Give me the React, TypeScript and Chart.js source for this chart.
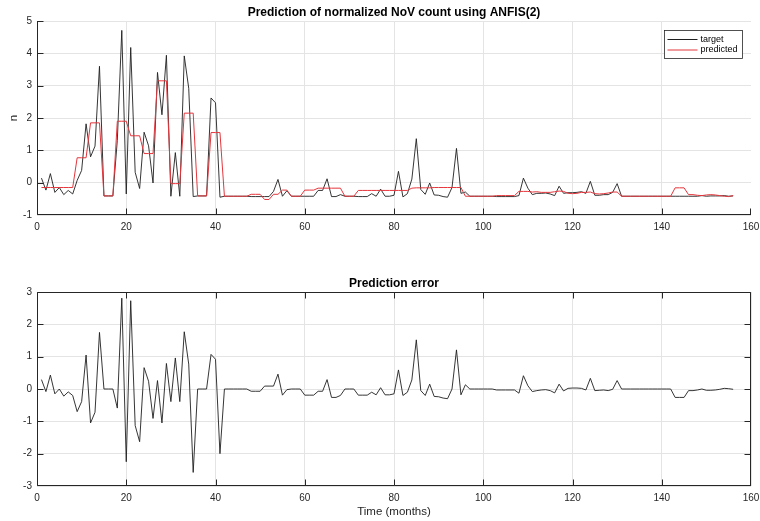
import React, { useEffect, useRef } from 'react';
import { Chart, registerables } from 'chart.js';

Chart.register(...registerables);

const FONT = '"Liberation Sans", Arial, Helvetica, sans-serif';

// sample index (months 1..156)
const months: number[] = Array.from({ length: 156 }, (_, i) => i + 1);

const target: number[] = [
  0.14, -0.23, 0.28, -0.30, -0.15, -0.37, -0.24, -0.35, 0.07, 0.38,
  1.82, 0.80, 1.13, 3.60, -0.41, -0.41, -0.41, 1.31, 4.71, -0.35,
  4.18, 0.32, -0.18, 1.56, 1.14, -0.01, 3.41, 2.10, 3.94, -0.42,
  0.93, -0.42, 3.92, 2.92, -0.43, -0.41, -0.41, -0.41, 2.62, 2.47,
  -0.45, -0.42, -0.42, -0.42, -0.42, -0.42, -0.42, -0.43, -0.43, -0.43,
  -0.43, -0.43, -0.27, 0.10, -0.42, -0.25, -0.42, -0.42, -0.42, -0.42,
  -0.42, -0.42, -0.24, -0.24, 0.12, -0.43, -0.43, -0.37, -0.42, -0.42,
  -0.42, -0.43, -0.43, -0.43, -0.34, -0.42, -0.20, -0.42, -0.42, -0.39,
  0.35, -0.44, -0.34, 0.11, 1.36, -0.21, -0.36, -0.01, -0.38, -0.39,
  -0.43, -0.45, -0.15, 1.06, -0.33, -0.29, -0.42, -0.42, -0.42, -0.42,
  -0.42, -0.42, -0.43, -0.43, -0.43, -0.43, -0.43, -0.40, 0.14, -0.17,
  -0.37, -0.33, -0.33, -0.32, -0.35, -0.40, -0.11, -0.33, -0.31, -0.31,
  -0.30, -0.28, -0.33, 0.04, -0.39, -0.39, -0.37, -0.37, -0.30, -0.03,
  -0.42, -0.42, -0.42, -0.42, -0.42, -0.42, -0.42, -0.42, -0.42, -0.42,
  -0.42, -0.42, -0.42, -0.42, -0.42, -0.42, -0.42, -0.42, -0.40, -0.42,
  -0.41, -0.41, -0.41, -0.40, -0.42, -0.41,
];

const predicted: number[] = [
  -0.15, -0.15, -0.15, -0.15, -0.15, -0.15, -0.15, -0.15, 0.77, 0.77,
  0.77, 1.85, 1.85, 1.85, -0.41, -0.41, -0.41, 1.90, 1.90, 1.90,
  1.45, 1.45, 1.45, 0.90, 0.90, 0.90, 3.15, 3.15, 3.15, -0.03,
  -0.03, -0.03, 2.15, 2.15, 2.15, -0.41, -0.41, -0.41, 1.55, 1.55,
  1.55, -0.42, -0.42, -0.42, -0.42, -0.42, -0.42, -0.36, -0.36, -0.36,
  -0.52, -0.52, -0.36, -0.36, -0.23, -0.23, -0.42, -0.42, -0.42, -0.23,
  -0.23, -0.23, -0.17, -0.17, -0.17, -0.17, -0.17, -0.17, -0.42, -0.42,
  -0.42, -0.24, -0.24, -0.24, -0.24, -0.24, -0.24, -0.24, -0.24, -0.24,
  -0.24, -0.24, -0.24, -0.17, -0.16, -0.16, -0.16, -0.16, -0.15, -0.15,
  -0.15, -0.15, -0.15, -0.15, -0.15, -0.42, -0.42, -0.42, -0.42, -0.42,
  -0.42, -0.42, -0.40, -0.40, -0.40, -0.40, -0.40, -0.27, -0.27, -0.27,
  -0.29, -0.28, -0.30, -0.30, -0.30, -0.28, -0.26, -0.27, -0.33, -0.34,
  -0.33, -0.30, -0.30, -0.29, -0.34, -0.35, -0.34, -0.32, -0.29, -0.29,
  -0.42, -0.42, -0.42, -0.42, -0.42, -0.42, -0.42, -0.42, -0.42, -0.42,
  -0.42, -0.42, -0.16, -0.16, -0.16, -0.37, -0.37, -0.39, -0.40, -0.38,
  -0.37, -0.38, -0.40, -0.42, -0.43, -0.40,
];

const predError: number[] = [
  0.29, -0.08, 0.43, -0.15, 0.00, -0.22, -0.09, -0.20, -0.70, -0.39,
  1.05, -1.05, -0.72, 1.75, 0.00, 0.00, 0.00, -0.59, 2.81, -2.25,
  2.73, -1.13, -1.63, 0.66, 0.24, -0.91, 0.26, -1.05, 0.79, -0.39,
  0.96, -0.39, 1.77, 0.77, -2.58, 0.00, 0.00, 0.00, 1.07, 0.92,
  -2.00, 0.00, 0.00, 0.00, 0.00, 0.00, 0.00, -0.07, -0.07, -0.07,
  0.09, 0.09, 0.09, 0.46, -0.19, -0.02, 0.00, 0.00, 0.00, -0.19,
  -0.19, -0.19, -0.07, -0.07, 0.29, -0.26, -0.26, -0.20, 0.00, 0.00,
  0.00, -0.19, -0.19, -0.19, -0.10, -0.18, 0.04, -0.18, -0.18, -0.15,
  0.59, -0.20, -0.10, 0.28, 1.52, -0.05, -0.20, 0.15, -0.23, -0.24,
  -0.28, -0.30, 0.00, 1.21, -0.18, 0.13, 0.00, 0.00, 0.00, 0.00,
  0.00, 0.00, -0.03, -0.03, -0.03, -0.03, -0.03, -0.13, 0.41, 0.10,
  -0.08, -0.05, -0.03, -0.02, -0.05, -0.12, 0.15, -0.06, 0.02, 0.03,
  0.03, 0.02, -0.03, 0.33, -0.05, -0.04, -0.03, -0.05, -0.01, 0.26,
  0.00, 0.00, 0.00, 0.00, 0.00, 0.00, 0.00, 0.00, 0.00, 0.00,
  0.00, 0.00, -0.26, -0.26, -0.26, -0.05, -0.05, -0.03, 0.00, -0.04,
  -0.04, -0.03, -0.01, 0.02, 0.01, -0.01,
];

const topTitle = 'Prediction of normalized NoV count using ANFIS(2)';
const bottomTitle = 'Prediction error';
const xAxisLabel = 'Time (months)';
const topYLabel = 'n';
const seriesLabels = ['target', 'predicted'];

const AXIS_COLOR = '#262626';
const GRID_COLOR = '#e4e4e4';
const TARGET_COLOR = '#1f1f1f';
const PRED_COLOR = '#e4363c';

function makeAxesPlugin(box: boolean) {
  return {
    id: 'matlabAxes',
    afterDatasetsDraw(chart: any) {
      const { ctx, chartArea } = chart;
      const { left, right, top, bottom } = chartArea;
      const xs = chart.scales.x;
      const ys = chart.scales.y;
      const L = Math.round(left) + 0.5;
      const R = Math.round(right) - 0.5;
      const T = Math.round(top) + 0.5;
      const B = Math.round(bottom) - 0.5;
      const tl = 6;
      ctx.save();
      ctx.strokeStyle = AXIS_COLOR;
      ctx.lineWidth = 1;
      ctx.beginPath();
      ctx.moveTo(L, box ? T : T - 0.5);
      ctx.lineTo(L, B);
      ctx.lineTo(R + 0.5, B);
      if (box) {
        ctx.moveTo(R, B);
        ctx.lineTo(R, T);
        ctx.lineTo(L, T);
      }
      xs.ticks.forEach((t: any) => {
        const p = Math.min(Math.round(xs.getPixelForValue(t.value)) + 0.5, R);
        ctx.moveTo(p, B);
        ctx.lineTo(p, B - tl);
        if (box) {
          ctx.moveTo(p, T);
          ctx.lineTo(p, T + tl);
        }
      });
      ys.ticks.forEach((t: any) => {
        const p = Math.min(Math.round(ys.getPixelForValue(t.value)) + 0.5, B);
        ctx.moveTo(L, p);
        ctx.lineTo(L + tl, p);
        if (box) {
          ctx.moveTo(R, p);
          ctx.lineTo(R - tl, p);
        }
      });
      ctx.stroke();
      ctx.restore();
    },
  };
}

function makeTitlePlugin(text: string, gap: number) {
  return {
    id: 'plotTitle',
    afterDraw(chart: any) {
      const { ctx, chartArea } = chart;
      ctx.save();
      ctx.font = 'bold 12px ' + FONT;
      ctx.fillStyle = '#000000';
      ctx.textAlign = 'center';
      ctx.textBaseline = 'middle';
      ctx.fillText(text, (chartArea.left + chartArea.right) / 2, chartArea.top - gap);
      ctx.restore();
    },
  };
}

const legendBoxPlugin = {
  id: 'legendBox',
  afterDraw(chart: any) {
    const { ctx, chartArea } = chart;
    const ds = chart.data.datasets;
    const items = seriesLabels.map((lab) => {
      const d = ds.find((x: any) => x.label === lab);
      return { label: lab, color: d ? d.borderColor : '#000' };
    });
    ctx.save();
    ctx.font = '9px ' + FONT;
    const tw = Math.max(...items.map((it) => ctx.measureText(it.label).width));
    const w = Math.round(36 + tw + 5);
    const h = 28;
    const x0 = Math.round(chartArea.right - 9 - w) + 0.5;
    const y0 = Math.round(chartArea.top + 9) + 0.5;
    ctx.fillStyle = '#ffffff';
    ctx.fillRect(x0, y0, w, h);
    ctx.strokeStyle = AXIS_COLOR;
    ctx.lineWidth = 0.8;
    ctx.strokeRect(x0, y0, w, h);
    items.forEach((it, i) => {
      const yy = y0 + 9 + i * 10.5;
      ctx.strokeStyle = it.color;
      ctx.lineWidth = 1;
      ctx.beginPath();
      ctx.moveTo(x0 + 3, yy);
      ctx.lineTo(x0 + 33, yy);
      ctx.stroke();
      ctx.fillStyle = '#000000';
      ctx.textBaseline = 'middle';
      ctx.textAlign = 'left';
      ctx.fillText(it.label, x0 + 36, yy);
    });
    ctx.restore();
  },
};

function zeroPad(s: any) {
  s.paddingLeft = 0;
  s.paddingRight = 0;
  s.paddingTop = 0;
  s.paddingBottom = 0;
}

function xScale(hideLast: boolean, height: number, titleText: string | null) {
  return {
    type: 'linear',
    min: 0,
    max: 160,
    afterFit: (s: any) => {
      s.height = height;
      zeroPad(s);
    },
    ticks: {
      stepSize: 20,
      padding: 6,
      color: AXIS_COLOR,
      font: { family: FONT, size: 10 },
      maxRotation: 0,
    },
    grid: {
      drawTicks: false,
      lineWidth: 1,
      color: (c: any) => (hideLast && c.tick && c.tick.value === 160 ? 'rgba(0,0,0,0)' : GRID_COLOR),
    },
    border: { display: false },
    title: titleText
      ? {
          display: true,
          text: titleText,
          color: AXIS_COLOR,
          font: { family: FONT, size: 11.5 },
          padding: { top: 0, bottom: 2.4 },
        }
      : { display: false },
  };
}

function yScale(min: number, max: number, titleText: string | null) {
  return {
    type: 'linear',
    min,
    max,
    afterFit: (s: any) => {
      s.width = 37;
      zeroPad(s);
    },
    ticks: {
      stepSize: 1,
      padding: 5,
      color: AXIS_COLOR,
      font: { family: FONT, size: 10 },
    },
    grid: { drawTicks: false, lineWidth: 1, color: GRID_COLOR },
    border: { display: false },
    title: titleText
      ? {
          display: true,
          text: titleText,
          color: AXIS_COLOR,
          font: { family: FONT, size: 11.5 },
          padding: { top: 7, bottom: 0 },
        }
      : { display: false },
  };
}

export default function App() {
  const topRef = useRef<HTMLCanvasElement | null>(null);
  const botRef = useRef<HTMLCanvasElement | null>(null);

  useEffect(() => {
    if (!topRef.current || !botRef.current) return;
    const topChart = new Chart(topRef.current, {
      type: 'line',
      data: {
        datasets: [
          {
            label: seriesLabels[0],
            data: months.map((m, i) => ({ x: m, y: target[i] })),
            borderColor: TARGET_COLOR,
            borderWidth: 0.9,
            pointRadius: 0,
            tension: 0,
            order: 1,
          },
          {
            label: seriesLabels[1],
            data: months.map((m, i) => ({ x: m, y: predicted[i] })),
            borderColor: PRED_COLOR,
            borderWidth: 1,
            pointRadius: 0,
            tension: 0,
            order: 0,
          },
        ],
      },
      options: {
        responsive: false,
        animation: false,
        devicePixelRatio: 1,
        layout: { padding: { left: 0, right: 9, top: 21, bottom: 0 } },
        plugins: {
          legend: { display: false },
          tooltip: { enabled: false },
          title: { display: false },
        },
        scales: {
          x: xScale(true, 30, null),
          y: yScale(-1, 5, topYLabel),
        },
      } as any,
      plugins: [makeAxesPlugin(false), legendBoxPlugin, makeTitlePlugin(topTitle, 8)],
    });

    const botChart = new Chart(botRef.current, {
      type: 'line',
      data: {
        datasets: [
          {
            label: bottomTitle,
            data: months.map((m, i) => ({ x: m, y: predError[i] })),
            borderColor: TARGET_COLOR,
            borderWidth: 0.9,
            pointRadius: 0,
            tension: 0,
          },
        ],
      },
      options: {
        responsive: false,
        animation: false,
        devicePixelRatio: 1,
        layout: { padding: { left: 0, right: 9, top: 47, bottom: 0 } },
        plugins: {
          legend: { display: false },
          tooltip: { enabled: false },
          title: { display: false },
        },
        scales: {
          x: xScale(false, 35, xAxisLabel),
          y: yScale(-3, 3, null),
        },
      } as any,
      plugins: [makeAxesPlugin(true), makeTitlePlugin(bottomTitle, 8.5)],
    });

    return () => {
      topChart.destroy();
      botChart.destroy();
    };
  }, []);

  return (
    <div style={{ position: 'absolute', left: 0, top: 0, width: 760, height: 521, background: '#ffffff' }}>
      <canvas ref={topRef} width={760} height={245} style={{ position: 'absolute', left: 0, top: 0, width: 760, height: 245 }} />
      <canvas ref={botRef} width={760} height={276} style={{ position: 'absolute', left: 0, top: 245, width: 760, height: 276 }} />
    </div>
  );
}
